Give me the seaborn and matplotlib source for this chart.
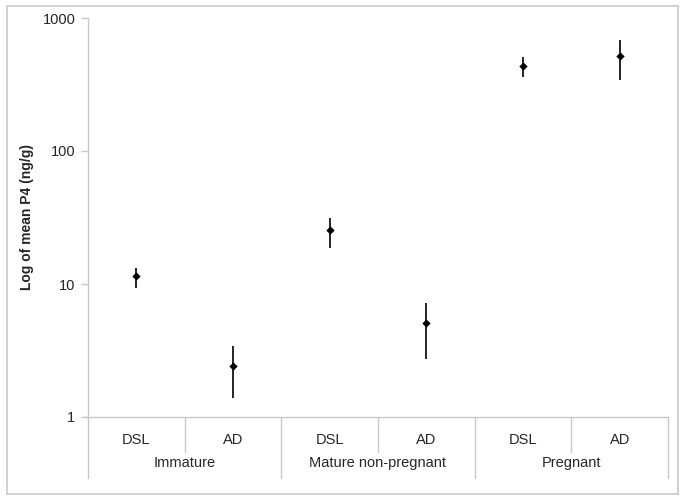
import numpy as np
import pandas as pd
import matplotlib
matplotlib.use('Agg')
import matplotlib.pyplot as plt
import seaborn as sns
from matplotlib.patches import Rectangle
from matplotlib.lines import Line2D

# Data
groups = ['Immature', 'Immature', 'Mature non-pregnant', 'Mature non-pregnant', 'Pregnant', 'Pregnant']
methods = ['DSL', 'AD', 'DSL', 'AD', 'DSL', 'AD']
mean_p4 = [11.5, 2.4, 25.5, 5.1, 435, 518]
err_low = [9.3, 1.38, 18.6, 2.75, 360, 340]
err_high = [13.3, 3.4, 31.5, 7.2, 505, 680]
y_ticks = [1, 10, 100, 1000]

sns.set_style('white')
plt.rcParams['font.family'] = ['Liberation Sans', 'DejaVu Sans']

data = pd.DataFrame({'slot': [f'{g}|{m}' for g, m in zip(groups, methods)],
                     'mean': mean_p4, 'lo': err_low, 'hi': err_high})

fig = plt.figure(figsize=(6.83, 4.99), dpi=100)
ax = fig.add_axes([88 / 683, 1 - 417 / 499, (668 - 88) / 683, (417 - 18) / 499])

ax.set_yscale('log')
sns.pointplot(data=data, x='slot', y='mean', order=list(data['slot']),
              linestyle='none', markers='D', color='black', markersize=2.2,
              errorbar=None, ax=ax)
pos = np.arange(len(data))
ax.vlines(pos, data['lo'], data['hi'], color='black', lw=1.2, zorder=1)

ax.set_ylim(1, 1000)
ax.set_xlim(-0.5, len(data) - 0.5)
ax.set_yticks(y_ticks)
ax.set_yticklabels([str(t) for t in y_ticks], fontsize=10.5)
ax.minorticks_off()
ax.tick_params(axis='y', length=5, color='#c8c8c8', width=1, pad=4, left=True)
ax.set_xticks([])
ax.set_xlabel('')
ax.set_ylabel('Log of mean P4 (ng/g)', fontsize=10, fontweight='bold', labelpad=6)

for side in ['top', 'right']:
    ax.spines[side].set_visible(False)
for side in ['left', 'bottom']:
    ax.spines[side].set_color('#c8c8c8')
    ax.spines[side].set_linewidth(1)

# two-level category axis
trans = ax.get_xaxis_transform()
y_sub = -(440 - 417) / (417 - 18)
y_grp = -(463 - 417) / (417 - 18)
y_short = -(452 - 417) / (417 - 18)
y_long = -(478 - 417) / (417 - 18)
for i, m in enumerate(methods):
    ax.text(i, y_sub, m, transform=trans, ha='center', va='center', fontsize=10.5)
uniq = list(dict.fromkeys(groups))
for k, g in enumerate(uniq):
    ax.text(2 * k + 0.5, y_grp, g, transform=trans, ha='center', va='center', fontsize=10.5)
for b in np.arange(-0.5, len(methods), 1.0):
    bottom = y_long if (b + 0.5) % 2 == 0 else y_short
    ax.add_line(Line2D([b, b], [0, bottom], transform=trans, color='#c8c8c8',
                       lw=1, clip_on=False))
ax.add_line(Line2D([-0.5 - 5 / 97, -0.5], [0, 0], transform=trans, color='#c8c8c8',
                   lw=1, clip_on=False))

# outer chart border
fig.patches.append(Rectangle((7 / 683, 5 / 499), 671 / 683, 488 / 499,
                             transform=fig.transFigure, fill=False,
                             edgecolor='#c8c8c8', lw=1.2))

plt.savefig('out.png', dpi=100)
plt.close()
